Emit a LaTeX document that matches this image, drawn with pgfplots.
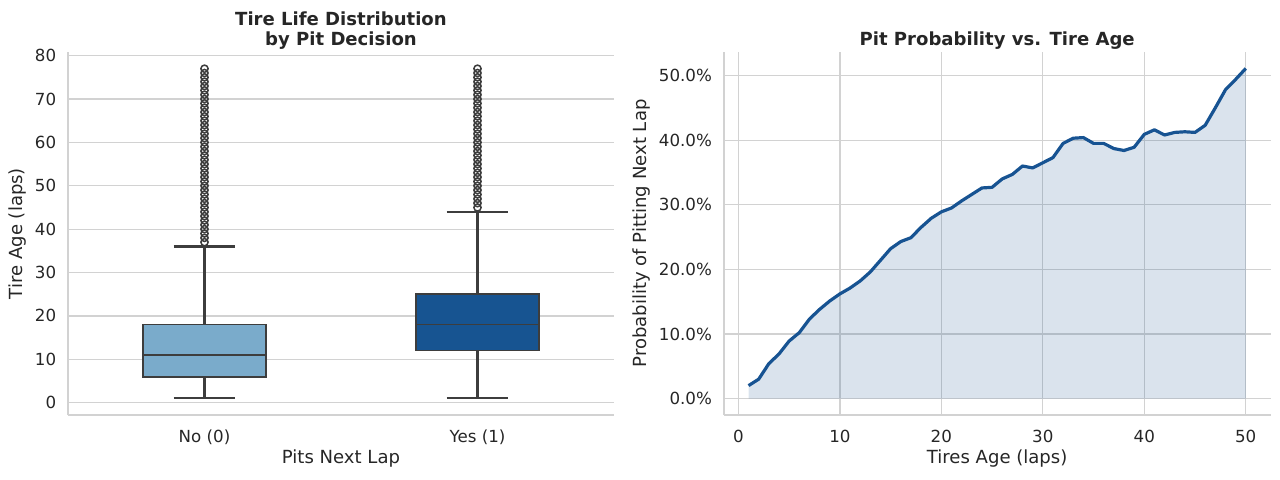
\documentclass[border=0pt]{standalone}
\usepackage{fontspec}
\setmainfont{DejaVu Sans}
\usepackage{pgfplots}
\pgfplotsset{compat=1.18}
\usepgfplotslibrary{statistics}

\definecolor{textc}{RGB}{38,38,38}
\definecolor{gridc}{RGB}{210,210,210}
\definecolor{boxedge}{RGB}{61,61,61}
\definecolor{lightb}{RGB}{122,171,203}
\definecolor{darkb}{RGB}{23,84,145}
\definecolor{lineb}{RGB}{23,83,146}

\tikzset{ttl/.style={font=\bfseries\fontsize{13}{15.1}\selectfont, text=textc, align=center, anchor=center}}

\pgfplotsset{
  sbstyle/.style={
    scale only axis,
    anchor=south west,
    axis x line*=bottom, axis y line*=left,
    axis line style={-, gridc, line width=1.4pt},
    grid style={gridc, line width=0.9pt},
    major tick length=0pt,
    /pgf/number format/assume math mode=true,
    tick label style={font=\fontsize{12}{14}\selectfont, text=textc},
    yticklabel style={xshift=-5pt},
    xticklabel style={yshift=-7.5pt},
    label style={font=\fontsize{13}{15}\selectfont, text=textc},
    clip=false,
  },
  sbbox/.style={
    boxplot/draw direction=y,
    boxplot/every box/.style={draw=boxedge, line width=1.3pt, fill=#1},
    boxplot/every median/.style={draw=boxedge, line width=1.3pt},
    boxplot/every whisker/.style={draw=boxedge, line width=1.7pt},
    draw=boxedge, line width=1.3pt,
  },
  whisk/.style={boxedge, line width=1.7pt, forget plot},
}

\begin{document}
\begin{tikzpicture}
\path[use as bounding box] (0,0) rectangle (921.6pt,345.6pt);

% left: box plot
\begin{axis}[sbstyle,
  at={(48.96pt,46.8pt)},
  width=393.12pt, height=261.36pt,
  xmin=-0.5, xmax=1.5, ymin=-2.85, ymax=80.85,
  xtick={0,1}, xticklabels={No (0),Yes (1)},
  ytick={0,10,...,80},
  ymajorgrids,
  xlabel={Pits Next Lap}, ylabel={Tire Age (laps)},
  xlabel style={at={(axis description cs:0.5,-0.121)}, anchor=center},
  ylabel style={at={(axis description cs:-0.0916,0.5)}, anchor=center},
]
% whiskers (No: 1-36, Yes: 1-44)
\addplot[whisk] coordinates {(0,1) (0,6)};
\addplot[whisk] coordinates {(0,18) (0,36)};
\addplot[whisk] coordinates {(-0.1125,1) (0.1125,1)};
\addplot[whisk] coordinates {(-0.1125,36) (0.1125,36)};
\addplot[whisk] coordinates {(1,1) (1,12)};
\addplot[whisk] coordinates {(1,25) (1,44)};
\addplot[whisk] coordinates {(0.8875,1) (1.1125,1)};
\addplot[whisk] coordinates {(0.8875,44) (1.1125,44)};
\addplot[sbbox=lightb,
  boxplot prepared={draw position=0, lower whisker=1, lower quartile=6,
  median=11, upper quartile=18, upper whisker=36,
  box extend=0.45, whisker extend=0.225}] coordinates {};
\addplot[sbbox=darkb,
  boxplot prepared={draw position=1, lower whisker=1, lower quartile=12,
  median=18, upper quartile=25, upper whisker=44,
  box extend=0.45, whisker extend=0.225}] coordinates {};
\addplot[only marks, mark=o, mark size=2.6pt,
  mark options={draw=boxedge, line width=1.1pt}] coordinates {
  (0,37) (0,38) (0,39) (0,40) (0,41) (0,42) (0,43) (0,44) (0,45) (0,46)
  (0,47) (0,48) (0,49) (0,50) (0,51) (0,52) (0,53) (0,54) (0,55) (0,56)
  (0,57) (0,58) (0,59) (0,60) (0,61) (0,62) (0,63) (0,64) (0,65) (0,66)
  (0,67) (0,68) (0,69) (0,70) (0,71) (0,72) (0,73) (0,74) (0,75) (0,76) (0,77)
  (1,45) (1,46) (1,47) (1,48) (1,49) (1,50) (1,51) (1,52) (1,53) (1,54)
  (1,55) (1,56) (1,57) (1,58) (1,59) (1,60) (1,61) (1,62) (1,63) (1,64)
  (1,65) (1,66) (1,67) (1,68) (1,69) (1,70) (1,71) (1,72) (1,73) (1,74)
  (1,75) (1,76) (1,77)
};
\node[ttl] at (rel axis cs:0.5,1.059) {Tire Life Distribution\\by Pit Decision};
\end{axis}

% right: pit probability
\begin{axis}[sbstyle,
  at={(521.06pt,46.8pt)},
  width=393.77pt, height=261.36pt,
  xmin=-1.45, xmax=52.45, ymin=-2.55, ymax=53.65,
  xtick={0,10,...,50}, ytick={0,10,...,50},
  yticklabel={\pgfmathprintnumber[fixed,fixed zerofill,precision=1]{\tick}\%},
  xmajorgrids, ymajorgrids,
  xlabel={Tires Age (laps)}, ylabel={Probability of Pitting Next Lap},
  xlabel style={at={(axis description cs:0.5,-0.121)}, anchor=center},
  ylabel style={at={(axis description cs:-0.151,0.5)}, anchor=center},
]
\addplot[draw=none, fill=lineb, fill opacity=0.16] coordinates {
  (1,2.0) (2,3.0) (3,5.4) (4,6.9) (5,8.9) (6,10.2) (7,12.3) (8,13.8) (9,15.1) (10,16.2)
  (11,17.1) (12,18.2) (13,19.6) (14,21.4) (15,23.2) (16,24.3) (17,24.9) (18,26.5) (19,27.9) (20,28.9)
  (21,29.5) (22,30.6) (23,31.6) (24,32.6) (25,32.7) (26,34.0) (27,34.7) (28,36.0) (29,35.7) (30,36.5)
  (31,37.3) (32,39.5) (33,40.3) (34,40.4) (35,39.5) (36,39.5) (37,38.7) (38,38.4) (39,38.9) (40,40.9)
  (41,41.6) (42,40.8) (43,41.2) (44,41.3) (45,41.2) (46,42.3) (47,45.0) (48,47.8) (49,49.4) (50,51.1)
} \closedcycle;
\addplot[lineb, line width=2.3pt, line join=round] coordinates {
  (1,2.0) (2,3.0) (3,5.4) (4,6.9) (5,8.9) (6,10.2) (7,12.3) (8,13.8) (9,15.1) (10,16.2)
  (11,17.1) (12,18.2) (13,19.6) (14,21.4) (15,23.2) (16,24.3) (17,24.9) (18,26.5) (19,27.9) (20,28.9)
  (21,29.5) (22,30.6) (23,31.6) (24,32.6) (25,32.7) (26,34.0) (27,34.7) (28,36.0) (29,35.7) (30,36.5)
  (31,37.3) (32,39.5) (33,40.3) (34,40.4) (35,39.5) (36,39.5) (37,38.7) (38,38.4) (39,38.9) (40,40.9)
  (41,41.6) (42,40.8) (43,41.2) (44,41.3) (45,41.2) (46,42.3) (47,45.0) (48,47.8) (49,49.4) (50,51.1)
};
\node[ttl] at (rel axis cs:0.5,1.0303) {Pit Probability vs. Tire Age};
\end{axis}
\end{tikzpicture}
\end{document}
